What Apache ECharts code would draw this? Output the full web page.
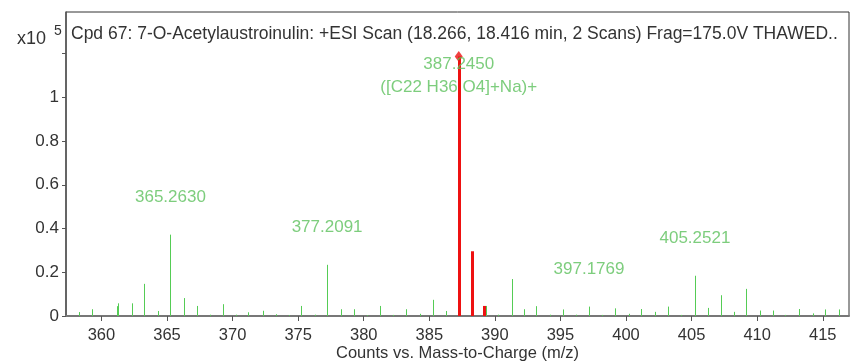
<!DOCTYPE html>
<html>
<head>
<meta charset="utf-8">
<script src="https://cdn.jsdelivr.net/npm/echarts@6/dist/echarts.min.js"></script>
<style>
  html, body { margin: 0; padding: 0; background: #fff; }
  #chart { width: 850px; height: 364px; }
</style>
</head>
<body>
<div id="chart"></div>
<script>
// m/z and intensity (x10^5 counts)
var greenMz = [358.3, 359.3, 361.2, 361.3, 362.3, 363.25, 364.3, 365.2, 365.263, 366.27,
  367.27, 368.3, 369.27, 370.25, 371.2, 372.3, 373.3, 374.3, 375.23, 376.3,
  377.209, 378.27, 379.25, 380.27, 381.23, 382.24, 383.24, 384.26, 385.27, 386.3,
  389.3, 390.25, 391.27, 392.23, 393.17, 394.24, 395.2, 396.2, 397.177, 398.2,
  399.19, 400.2, 401.17, 402.24, 403.2, 404.17, 405.252, 406.26, 407.23, 408.24,
  409.15, 410.22, 411.2, 412.15, 413.16, 414.25, 415.2, 416.21];
var greenInt = [0.018, 0.031, 0.045, 0.058, 0.058, 0.147, 0.023, 0.035, 0.372, 0.082,
  0.046, 0.006, 0.054, 0.006, 0.017, 0.024, 0.008, 0.004, 0.046, 0.006,
  0.234, 0.031, 0.031, 0.004, 0.046, 0.005, 0.031, 0.01, 0.074, 0.023,
  0.046, 0.006, 0.169, 0.031, 0.045, 0.006, 0.03, 0.006, 0.043, 0.005,
  0.035, 0.01, 0.032, 0.019, 0.043, 0.005, 0.184, 0.037, 0.095, 0.019,
  0.124, 0.025, 0.025, 0.005, 0.032, 0.012, 0.03, 0.03];

// isotope cluster of the compound (red)
var redMz = [387.245, 388.25, 389.2];
var redInt = [1.186, 0.296, 0.046];

// annotated peaks
var labelMz = [365.263, 377.2091, 387.245, 397.1769, 405.2521];
var labelText = ['365.2630', '377.2091', '387.2450\n([C22 H36 O4]+Na)+', '397.1769', '405.2521'];

var titleText = 'Cpd 67: 7-O-Acetylaustroinulin: +ESI Scan (18.266, 18.416 min, 2 Scans) Frag=175.0V THAWED..';
var xName = 'Counts vs. Mass-to-Charge (m/z)';

var FONT = '"Liberation Sans", Arial, sans-serif';

function pairs(xs, ys) {
  var out = [];
  for (var i = 0; i < xs.length; i++) out.push([xs[i], ys[i]]);
  return out;
}

function intensityAt(mz) {
  var all = pairs(greenMz.concat(redMz), greenInt.concat(redInt));
  var best = all[0];
  all.forEach(function (p) {
    if (Math.abs(p[0] - mz) < Math.abs(best[0] - mz)) best = p;
  });
  return best[1];
}

function stick(color, width) {
  return function (params, api) {
    var base = api.coord([api.value(0), 0]);
    var top = api.coord([api.value(0), api.value(1)]);
    var x = width % 2 === 1 ? Math.round(base[0]) + 0.5 : Math.round(base[0]);
    return {
      type: 'line',
      shape: { x1: x, y1: base[1], x2: x, y2: top[1] },
      style: { stroke: color, lineWidth: width }
    };
  };
}

var labelData = labelMz.map(function (mz, i) {
  var item = { value: [mz, intensityAt(mz)], label: { formatter: labelText[i] } };
  if (labelText[i].indexOf('\n') >= 0) {
    item.label.position = 'bottom';
    item.label.distance = -4;
    item.label.lineHeight = 23;
  }
  return item;
});

var topIdx = redInt.indexOf(Math.max.apply(null, redInt));

var chart = echarts.init(document.getElementById('chart'));
var option = {
  animation: false,
  title: {
    text: titleText,
    left: 66,
    top: 20,
    textStyle: { fontFamily: FONT, fontSize: 17.5, fontWeight: 'normal', color: '#333' }
  },
  graphic: [
    { type: 'text', left: 17, top: 30, style: { text: 'x10', font: '18px ' + FONT, fill: '#333' } },
    { type: 'text', left: 54, top: 24, style: { text: '5', font: '14px ' + FONT, fill: '#333' } }
  ],
  grid: {
    left: 66, right: 1, top: 12, bottom: 48,
    containLabel: false,
    outerBoundsMode: 'none',
    show: true, borderColor: '#333', borderWidth: 1
  },
  xAxis: {
    type: 'value',
    min: 357.3,
    max: 417,
    minInterval: 5,
    maxInterval: 5,
    name: xName,
    nameLocation: 'middle',
    nameGap: 29,
    nameMoveOverlap: false,
    nameTextStyle: { fontFamily: FONT, fontSize: 16.5, color: '#333' },
    axisLine: { lineStyle: { color: '#777', width: 2 } },
    axisTick: { show: true, length: 5, lineStyle: { color: '#555' } },
    axisLabel: {
      fontFamily: FONT, fontSize: 16.5, color: '#333', margin: 11,
      showMinLabel: false, showMaxLabel: false,
      formatter: function (v) { return v % 5 === 0 ? String(v) : ''; }
    },
    splitLine: { show: false }
  },
  yAxis: {
    type: 'value',
    min: 0,
    max: 1.39,
    interval: 0.2,
    axisLine: { show: true, lineStyle: { color: '#555', width: 1.5 } },
    axisTick: { show: true, length: 4, lineStyle: { color: '#555' } },
    axisLabel: {
      fontFamily: FONT, fontSize: 17, color: '#333', margin: 7,
      showMaxLabel: false,
      formatter: function (v) { return v > 1.01 ? '' : String(Math.round(v * 10) / 10); }
    },
    splitLine: { show: false }
  },
  series: [
    {
      type: 'custom',
      name: 'peaks',
      renderItem: stick('#55cc55', 1),
      data: pairs(greenMz, greenInt),
      silent: true
    },
    {
      type: 'custom',
      name: 'compound',
      renderItem: stick('#ee1111', 3),
      data: pairs(redMz, redInt),
      silent: true
    },
    {
      type: 'scatter',
      symbol: 'diamond',
      symbolSize: [8, 11],
      itemStyle: { color: '#ee1111' },
      data: [[redMz[topIdx], redInt[topIdx]]],
      z: 4
    },
    {
      type: 'scatter',
      symbolSize: 0,
      label: {
        show: true,
        position: 'top',
        distance: 29,
        fontFamily: FONT,
        fontSize: 17,
        color: '#5cc05c'
      },
      data: labelData,
      z: 5
    }
  ]
};
chart.setOption(option);
</script>
</body>
</html>
